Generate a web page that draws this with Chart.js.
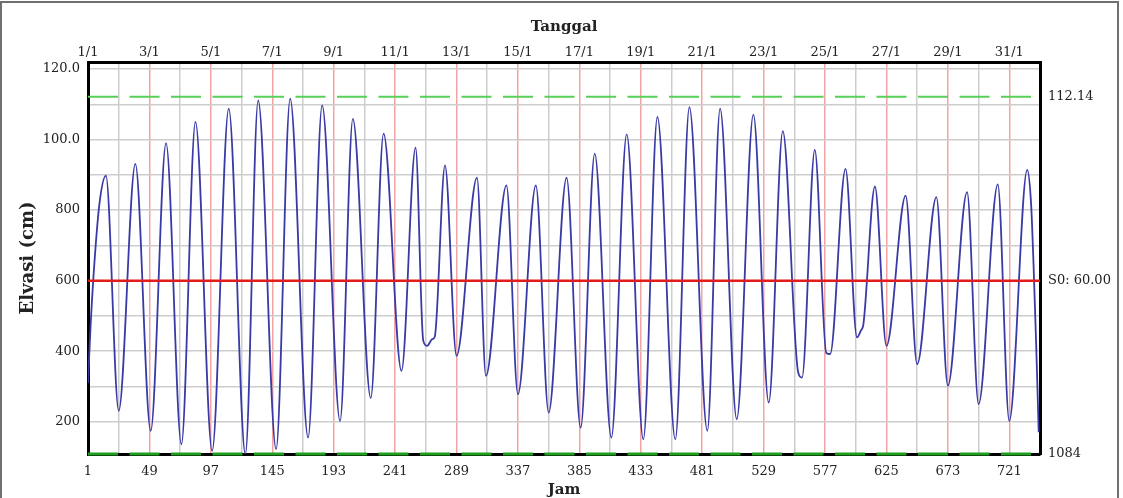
<!DOCTYPE html>
<html lang="id">
<head>
<meta charset="utf-8">
<title>Elevasi Pasang Surut</title>
<script src="https://cdn.jsdelivr.net/npm/chart.js@4.4.1/dist/chart.umd.min.js"></script>
<style>
  html, body { margin: 0; padding: 0; background: #fff; overflow: hidden; }
  #wadah { position: relative; width: 1123px; height: 498px; }
  #bingkai { position: absolute; left: 0; top: 1px; width: 1119px; height: 520px; box-sizing: border-box; border: 2px solid #707070; pointer-events: none; }
  canvas { position: absolute; left: 0; top: 0; }
</style>
</head>
<body>
<div id="wadah">
  <canvas id="grafik" width="1123" height="498"></canvas>
  <div id="bingkai"></div>
</div>
<script>
// Data elevasi (cm) per jam (titik puncak, lembah dan bahu kurva)
const jam = [
  1, 3, 6, 10, 15, 25, 38, 50, 62, 74, 85, 98, 111, 124, 134, 148, 159, 173, 184, 198,
  208, 222, 232, 246, 257, 263, 266, 270, 272, 280, 289, 305, 312, 328, 337, 351, 361, 375, 386, 397,
  410, 422, 435, 446, 460, 471, 485, 495, 508, 521, 533, 544, 556, 559, 569, 578, 581, 593, 602, 605,
  607, 616, 625, 640, 649, 664, 673, 688, 697, 712, 721, 735, 738, 740, 742, 744
];
const elevasi = [
  310, 470, 650, 820, 898, 231, 931, 174, 990, 136, 1050, 117, 1088, 108, 1111, 122, 1116, 155, 1097, 202,
  1059, 267, 1017, 344, 977, 430, 415, 434, 441, 927, 387, 892, 330, 870, 278, 870, 226, 892, 183, 960,
  155, 1015, 150, 1064, 150, 1092, 174, 1088, 207, 1071, 254, 1024, 340, 325, 971, 395, 392, 917, 439, 458,
  477, 867, 415, 841, 363, 837, 302, 851, 250, 873, 202, 914, 820, 640, 420, 170
];

// Garis acuan
const s0 = 600;
const batasAtas = 1121.4;
const batasBawah = 108.4;
const elevasiMaks = 1220;
const jamAwal = 1;
const jamAkhir = 745;

// Sumbu bawah (Jam): garis grid tiap 24 jam, label tiap 48 jam
const gridJam = [1, 25, 49, 73, 97, 121, 145, 169, 193, 217, 241, 265, 289, 313, 337, 361,
  385, 409, 433, 457, 481, 505, 529, 553, 577, 601, 625, 649, 673, 697, 721];
// Sumbu atas (Tanggal)
const tickTanggal = [1, 49, 97, 145, 193, 241, 289, 337, 385, 433, 481, 529, 577, 625, 673, 721];
const labelTanggal = ['1/1', '3/1', '5/1', '7/1', '9/1', '11/1', '13/1', '15/1', '17/1', '19/1',
  '21/1', '23/1', '25/1', '27/1', '29/1', '31/1'];
// Sumbu kiri
const gridElevasi = [200, 300, 400, 500, 600, 700, 800, 900, 1000, 1100, 1200];
const tickElevasi = [200, 400, 600, 800, 1000, 1200];
const labelElevasi = ['200', '400', '600', '800', '100.0', '120.0'];
// Sumbu kanan
const tickKanan = [batasBawah, s0, batasAtas];
const labelKanan = ['1084', 'S0: 60.00', '112.14'];

const fontJudul = { family: "'DejaVu Serif', serif", size: 15, weight: 'bold', lineHeight: 1.2 };

Chart.defaults.font.family = "'DejaVu Serif', serif";
Chart.defaults.font.size = 13;
Chart.defaults.color = '#222';

const garis = (y) => [{ x: jamAwal, y: y }, { x: jamAkhir, y: y }];

new Chart(document.getElementById('grafik').getContext('2d'), {
  type: 'line',
  data: {
    datasets: [
      {
        label: 'S0',
        data: garis(s0),
        borderColor: '#e21b1b',
        borderWidth: 2.5,
        pointRadius: 0
      },
      {
        label: 'Elevasi',
        data: jam.map((h, i) => ({ x: h, y: elevasi[i] })),
        borderColor: '#3a3aa6',
        borderWidth: 1.8,
        pointRadius: 0,
        cubicInterpolationMode: 'monotone'
      },
      {
        label: 'Batas atas',
        data: garis(batasAtas),
        borderColor: '#58d058',
        borderWidth: 2,
        borderDash: [30, 11.5],
        pointRadius: 0
      },
      {
        label: 'Batas bawah',
        data: garis(batasBawah),
        borderColor: '#1f9f1f',
        borderWidth: 3,
        borderDash: [30, 11.5],
        pointRadius: 0,
        clip: false
      }
    ]
  },
  options: {
    responsive: false,
    animation: false,
    devicePixelRatio: 1,
    layout: { padding: 0 },
    plugins: {
      legend: { display: false },
      tooltip: { enabled: false }
    },
    scales: {
      x: {
        type: 'linear',
        position: 'bottom',
        min: jamAwal,
        max: jamAkhir,
        afterBuildTicks: s => { s.ticks = gridJam.map(v => ({ value: v })); },
        afterFit: s => { s.height = 44; },
        grid: {
          color: c => (c.index % 2 === 0 ? '#f4a3a3' : '#cdcdcd'),
          lineWidth: 1.5,
          drawTicks: false
        },
        border: { color: '#000', width: 3 },
        ticks: {
          autoSkip: false,
          maxRotation: 0,
          padding: 10,
          callback: (v, i) => (i % 2 === 0 ? String(v) : '')
        },
        title: { display: true, text: 'Jam', font: { ...fontJudul, lineHeight: 1 }, padding: { top: 0, bottom: 0 } }
      },
      x2: {
        type: 'linear',
        position: 'top',
        min: jamAwal,
        max: jamAkhir,
        afterBuildTicks: s => { s.ticks = tickTanggal.map(v => ({ value: v })); },
        afterFit: s => { s.height = 62; },
        grid: { drawOnChartArea: false, drawTicks: false },
        border: { color: '#000', width: 3 },
        ticks: {
          autoSkip: false,
          maxRotation: 0,
          padding: 2,
          callback: (v, i) => labelTanggal[i]
        },
        title: { display: true, text: 'Tanggal', font: fontJudul, padding: { top: 18, bottom: 0 } }
      },
      y: {
        type: 'linear',
        position: 'left',
        min: batasBawah,
        max: elevasiMaks,
        afterBuildTicks: s => { s.ticks = gridElevasi.map(v => ({ value: v })); },
        afterFit: s => { s.width = 88; },
        grid: { color: '#cdcdcd', lineWidth: 1.5, drawTicks: false },
        border: { color: '#000', width: 3 },
        ticks: {
          padding: 8,
          callback: v => {
            const i = tickElevasi.indexOf(v);
            return i >= 0 ? labelElevasi[i] : '';
          }
        },
        title: { display: true, text: 'Elvasi (cm)', font: { ...fontJudul, size: 18 }, padding: { top: 18, bottom: 0 } }
      },
      y2: {
        type: 'linear',
        position: 'right',
        min: batasBawah,
        max: elevasiMaks,
        afterBuildTicks: s => { s.ticks = tickKanan.map(v => ({ value: v })); },
        afterFit: s => { s.width = 83; },
        grid: { drawOnChartArea: false, drawTicks: false },
        border: { color: '#000', width: 3 },
        ticks: {
          padding: 8,
          callback: (v, i) => labelKanan[i]
        }
      }
    }
  }
});
</script>
</body>
</html>
